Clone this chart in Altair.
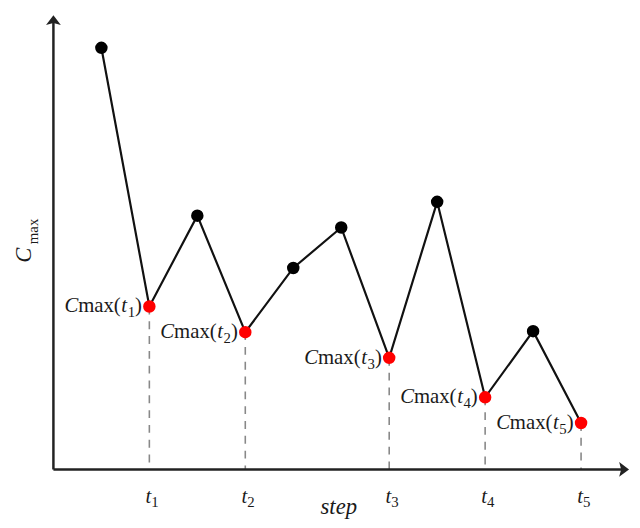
import altair as alt
import pandas as pd

# ---- data ----
steps = [1, 2, 3, 4, 5, 6, 7, 8, 9, 10, 11]
cmax = [427, 165, 257, 139, 204, 245, 113, 271, 73, 140, 47]
min_steps = [2, 4, 7, 9, 11]
min_subs = ["1", "2", "3", "4", "5"]

X_MAX = 12
Y_MAX = 460

df = pd.DataFrame({"step": steps, "cmax": cmax})
df["kind"] = ["min" if s in min_steps else "other" for s in steps]
red = df[df["step"].isin(min_steps)].copy()
red["sub"] = min_subs
red["open"] = ")"
red["t"] = "t"
red["mx"] = "max("
red["C"] = "C"
red["zero"] = 0

xs = alt.Scale(domain=[0, X_MAX], nice=False, zero=False)
ys = alt.Scale(domain=[0, Y_MAX], nice=False, zero=False)
X = alt.X("step:Q", scale=xs, axis=None)
Y = alt.Y("cmax:Q", scale=ys, axis=None)

FONT = "Liberation Serif, Times New Roman, serif"
TXT = "#1a1a1a"

base = alt.Chart(df)
rbase = alt.Chart(red)
axes_df = pd.DataFrame({
    "step": [0], "cmax": [0], "ytop": [Y_MAX - 4], "xend": [X_MAX - 0.08],
    "xmax": [X_MAX], "ymax": [Y_MAX], "lbl": ["step"], "C": ["C"], "mx": ["max"],
})
abase = alt.Chart(axes_df)

# axes lines
yaxis = abase.mark_rule(color="#222222", strokeWidth=2.5).encode(
    x=X, y=Y, y2="ytop:Q",
)
xaxis = abase.mark_rule(color="#222222", strokeWidth=2.5).encode(
    y=Y, x=X, x2="xend:Q",
)
yarrow = abase.mark_point(
    shape="M0,0 L0.75,1 L0,0.8 L-0.75,1 Z", size=400, filled=True,
    color="#222222", opacity=1, strokeWidth=0,
).encode(x=X, y=alt.Y("ymax:Q", scale=ys, axis=None))
xarrow = abase.mark_point(
    shape="M0,0 L-1,0.75 L-0.8,0 L-1,-0.75 Z", size=400, filled=True,
    color="#222222", opacity=1, strokeWidth=0,
).encode(x=alt.X("xmax:Q", scale=xs, axis=None), y=Y)

# dashed drop lines
drops = rbase.mark_rule(color="#888888", strokeWidth=1.6, strokeDash=[8, 7]).encode(
    x=X, y=Y, y2="zero:Q"
)

line = base.mark_line(color="#111111", strokeWidth=2.2).encode(x=X, y=Y)
pts = base.mark_point(filled=True, size=160, opacity=1, strokeWidth=0).encode(
    x=X, y=Y,
    color=alt.Color("kind:N", scale=alt.Scale(domain=["other", "min"], range=["#000000", "#ff0000"]), legend=None),
)

F = 21
FS = 15
DY = 6


def piece(field, dx, dy=DY, size=F, italic=False):
    return rbase.mark_text(
        font=FONT, fontSize=size, fontStyle="italic" if italic else "normal",
        align="right", baseline="alphabetic", dx=dx, dy=dy, color=TXT,
    ).encode(x=X, y=Y, text=f"{field}:N")


lab_close = piece("open", -7.5)
lab_sub = piece("sub", -14.5, dy=DY + 5, size=FS)
lab_t = piece("t", -22.5, italic=True)
lab_max = piece("mx", -29)
lab_C = piece("C", -72, italic=True)

# x tick labels t_i at minima steps
tick_t = rbase.mark_text(
    font=FONT, fontSize=F, fontStyle="italic", align="right", baseline="alphabetic",
    dx=2, color=TXT,
).encode(x=X, y=alt.value(494), text="t:N")
tick_sub = rbase.mark_text(
    font=FONT, fontSize=FS, align="left", baseline="alphabetic", dx=2, dy=4, color=TXT,
).encode(x=X, y=alt.value(494), text="sub:N")

# axis titles
step_title = abase.mark_text(
    font=FONT, fontSize=23, fontStyle="italic", align="center", baseline="alphabetic", color=TXT,
).encode(x=alt.value(289), y=alt.value(505), text="lbl:N")
ytitle_C = abase.mark_text(
    font=FONT, fontSize=23, fontStyle="italic", angle=270, align="center", baseline="middle", color=TXT,
).encode(x=alt.value(-30), y=alt.value(243), text="C:N")
ytitle_max = abase.mark_text(
    font=FONT, fontSize=15, angle=270, align="center", baseline="middle", color=TXT,
).encode(x=alt.value(-21), y=alt.value(219), text="mx:N")

chart = alt.layer(
    drops, yaxis, xaxis, yarrow, xarrow, line, pts,
    lab_C, lab_max, lab_t, lab_sub, lab_close,
    tick_t, tick_sub, step_title, ytitle_C, ytitle_max,
).properties(
    width=583, height=460,
    autosize=alt.AutoSizeParams(type="none"),
    padding={"left": 46, "top": 4, "right": 3, "bottom": 52},
    background="white",
).configure_view(stroke=None)

chart.save("out.html", embed_options={"renderer": "svg", "actions": False})
